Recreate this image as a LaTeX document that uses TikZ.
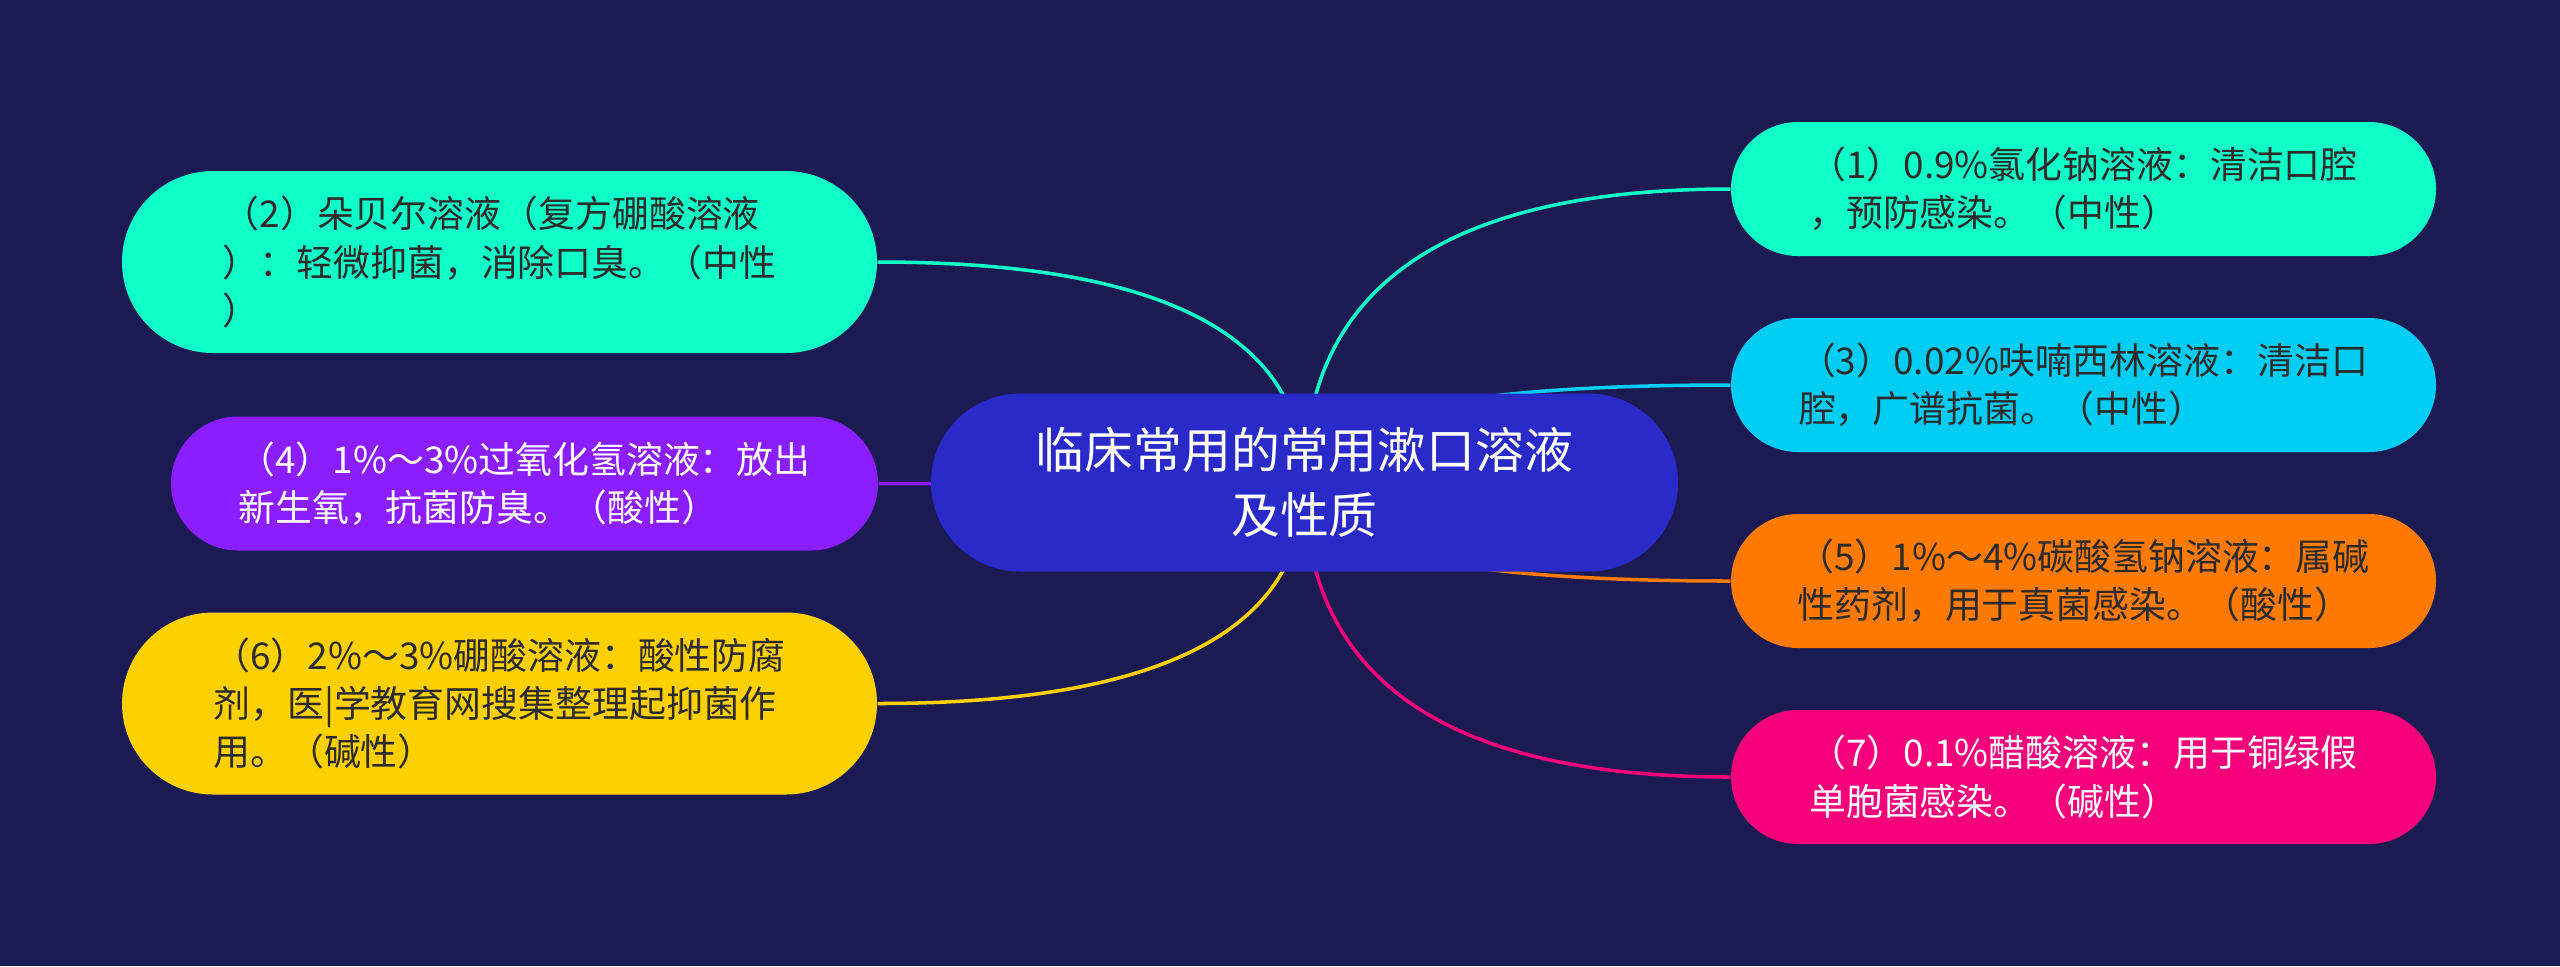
\documentclass[tikz,border=0pt]{standalone}
\usepackage{fontspec}
\setmainfont{Noto Sans CJK SC}
\usetikzlibrary{calc}
\pgfdeclarelayer{bg}
\pgfdeclarelayer{lines}
\pgfsetlayers{bg,lines,main}
\definecolor{cnavy}{HTML}{1B1A52}
\definecolor{croot}{HTML}{2A2AC8}
\definecolor{cmint}{HTML}{0FFFC9}
\definecolor{csky}{HTML}{00CDF4}
\definecolor{cviolet}{HTML}{8B1EFF}
\definecolor{corange}{HTML}{FF7A00}
\definecolor{cyellow}{HTML}{FFD000}
\definecolor{cpink}{HTML}{F5007A}
\definecolor{cdark}{HTML}{2B2B2B}
\begin{document}
\begin{tikzpicture}[
  root/.style={rectangle, fill=croot, text=white, align=center,
    minimum width=7.47cm, minimum height=1.78cm, rounded corners=0.89cm,
    font=\fontsize{13.9pt}{18.4pt}\selectfont},
  leaf/.style={rectangle, align=left, text=cdark,
    minimum width=7.05cm, minimum height=1.34cm, rounded corners=0.67cm,
    font=\fontsize{10.5pt}{13.7pt}\selectfont},
  tall/.style={minimum width=7.55cm, minimum height=1.82cm, rounded corners=0.91cm},
  branch/.style={draw, line width=1pt}]
\begin{pgfonlayer}{bg}
\fill[cnavy] (0,0) rectangle (25.6,-9.66);
\end{pgfonlayer}
\useasboundingbox (0,0) rectangle (25.6,-9.66);
% center
\node[root] (c) at (13.045,-4.825) {临床常用的常用漱口溶液\\及性质};
% left side
\node[leaf, tall, fill=cmint] (2) at (4.995,-2.62) {（2）朵贝尔溶液（复方硼酸溶液\\）：轻微抑菌，消除口臭。（中性\\）};
\node[leaf, fill=cviolet, text=white, minimum width=7.07cm] (4) at (5.245,-4.835) {（4）1\%～3\%过氧化氢溶液：放出\\新生氧，抗菌防臭。（酸性）};
\node[leaf, tall, fill=cyellow] (6) at (4.995,-7.035) {（6）2\%～3\%硼酸溶液：酸性防腐\\剂，医|学教育网搜集整理起抑菌作\\用。（碱性）};
% right side
\node[leaf, fill=cmint] (1) at (20.835,-1.89) {（1）0.9\%氯化钠溶液：清洁口腔\\，预防感染。（中性）};
\node[leaf, fill=csky] (3) at (20.835,-3.85) {（3）0.02\%呋喃西林溶液：清洁口\\腔，广谱抗菌。（中性）};
\node[leaf, fill=corange] (5) at (20.835,-5.81) {（5）1\%～4\%碳酸氢钠溶液：属碱\\性药剂，用于真菌感染。（酸性）};
\node[leaf, fill=cpink, text=white] (7) at (20.835,-7.77) {（7）0.1\%醋酸溶液：用于铜绿假\\单胞菌感染。（碱性）};
% branches
\newcommand\branchto[2]{
\path[branch,#2] (c.center) .. controls ($(c.center)!0.667!(c.center |- #1)$) and ($(#1)!0.667!(c.center |- #1)$) .. (#1);
}
\begin{pgfonlayer}{lines}
\branchto{1.west}{cmint}
\branchto{3.west}{csky}
\branchto{5.west}{corange}
\branchto{7.west}{cpink}
\branchto{2.east}{cmint}
\branchto{4.east}{cviolet}
\branchto{6.east}{cyellow}
\end{pgfonlayer}
\end{tikzpicture}
\end{document}
